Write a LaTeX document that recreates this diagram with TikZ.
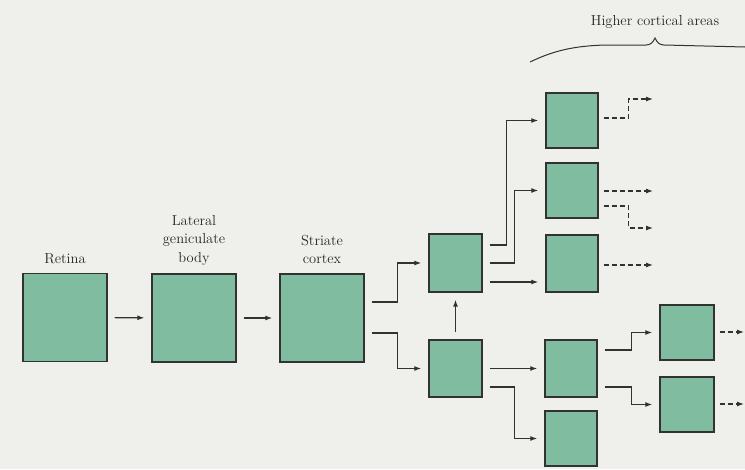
\documentclass[tikz,border=0pt]{standalone}
\usepackage{fontspec}
\usetikzlibrary{arrows.meta,positioning}
\definecolor{paper}{RGB}{239,239,236}
\definecolor{tissue}{RGB}{128,188,160}
\definecolor{ink}{RGB}{50,50,50}
\tikzset{
  area/.style={draw=ink,line width=1.4pt,fill=tissue,inner sep=0pt},
  tag/.style={font=\fontsize{14.5}{18.5}\selectfont,text=black!85,align=center,inner sep=0pt},
  link/.style={draw=ink,line width=1.1pt,-{Latex[length=7pt,width=5pt]},shorten <=7pt,shorten >=7pt},
  feed/.style={link,dash pattern=on 5pt off 3pt,shorten <=5pt,shorten >=0pt},
}
\begin{document}
\begin{tikzpicture}[x=1pt,y=-1pt]
    \useasboundingbox (0,0) rectangle (745,469);
    \fill[paper] (0,0) rectangle (745,469);
    \foreach \n/\x/\y/\w/\h in {
      retina/65/317.5/84/88, lgb/194/318/84/88, striate/322/318/84/88,
      upper/455.5/263/53/58, lower/455.5/368.5/53/57,
      hca/572/120.5/52/55, hcb/572/190.5/52/55, hcc/572/263.5/52/57,
      hcd/571/368.5/52/57, hce/571/438.5/52/55,
      hcf/687/332.5/54/55, hcg/687/404.5/54/55}
    {
      \node[area,minimum width=\w pt,minimum height=\h pt] (\n) at (\x,\y) {};
    }
    \node[tag,above=9pt of retina] (retinatag) {Retina};
    \node[tag,above=8pt of lgb] (lgbtag) {Lateral\\geniculate\\body};
    \node[tag,above=9pt of striate] (striatetag) {Striate\\cortex};
    \node[tag] (hightag) at (655,22) {Higher cortical areas};
    \draw[ink,line width=1pt] (530,62) .. controls (555,50) and (575,46) .. (605,45) -- (646,45)
      .. controls (651,45) and (653,42) .. (655,38) .. controls (657,42) and (659,45) .. (664,45) -- (745,47);
    \draw[link] (retina) -- (lgb);
    \draw[link] (lgb) -- (striate);
    \draw[link] ([yshift=16pt]striate.east) -- ++(33,0) |- (upper);
    \draw[link] ([yshift=-15pt]striate.east) -- ++(33,0) |- (lower);
    \draw[link] (lower) -- (upper);
    \draw[link] ([yshift=18pt]upper.east) -- ++(24,0) |- (hca);
    \draw[link] (upper.east) -- ++(32,0) |- (hcb);
    \draw[link] ([yshift=-19pt]upper.east) -- ([yshift=-19pt]upper.east -| hcc.west);
    \draw[link] (lower) -- (hcd);
    \draw[link] ([yshift=-18.5pt]lower.east) -- ++(32,0) |- (hce);
    \draw[link] ([yshift=18.5pt]hcd.east) -- ++(34,0) |- (hcf);
    \draw[link] ([yshift=-18.5pt]hcd.east) -- ++(34,0) |- (hcg);
    \coordinate (outa) at (653,99);
    \coordinate (outb) at (653,191);
    \coordinate (outc) at (653,228);
    \coordinate (outd) at (653,265);
    \coordinate (oute) at (744,332);
    \coordinate (outf) at (744,404);
    \draw[feed] ([yshift=2.5pt]hca.east) -- ++(30,0) |- (outa);
    \draw[feed] (hcb.east |- outb) -- (outb);
    \draw[feed] ([yshift=-15.5pt]hcb.east) -- ++(30,0) |- (outc);
    \draw[feed] (hcc.east |- outd) -- (outd);
    \draw[feed] (hcf.east |- oute) -- (oute);
    \draw[feed] (hcg.east |- outf) -- (outf);
  \end{tikzpicture}
\end{document}
